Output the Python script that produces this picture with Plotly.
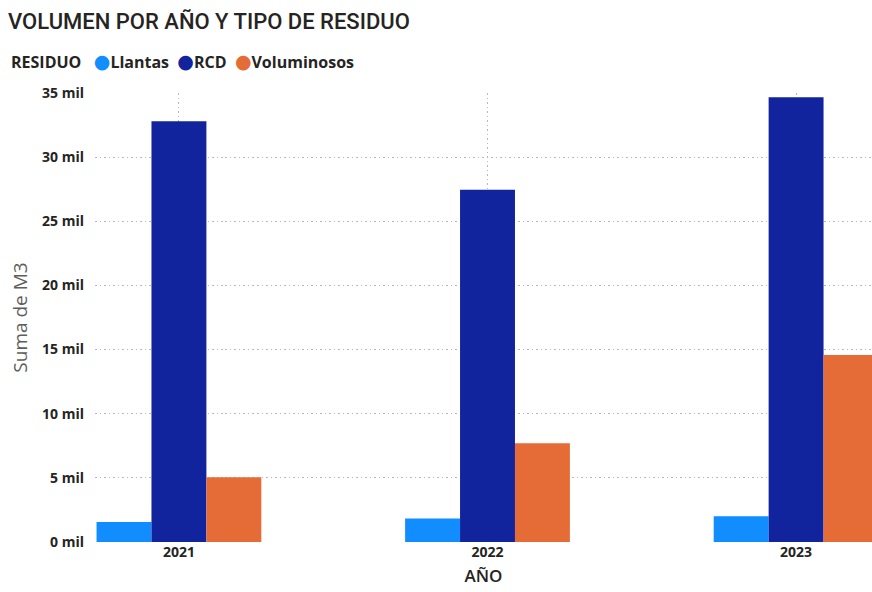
import plotly.graph_objects as go

# Volume (m3) per year and waste type
years = ["2021", "2022", "2023"]
series_names = ["Llantas", "RCD", "Voluminosos"]
llantas = [1560, 1830, 2000]
rcd = [32790, 27450, 34660]
voluminosos = [5050, 7700, 14570]
series_values = [llantas, rcd, voluminosos]
series_colors = ["#118DFF", "#12239E", "#E66C37"]

y_ticks = [0, 5000, 10000, 15000, 20000, 25000, 30000, 35000]
y_tick_text = [f"{v // 1000} mil" for v in y_ticks]

W, H = 872, 592
TEXT = "#252423"
GRID = "#B8B8B8"

fig = go.Figure()
for name, vals, col in zip(series_names, series_values, series_colors):
    fig.add_trace(go.Bar(
        x=years, y=vals, name=name,
        marker=dict(color=col, line=dict(width=0)),
        showlegend=False,
    ))

# Legend row drawn as a single rich-text line
legend_parts = ["<b>RESIDUO</b>&nbsp;&nbsp;&nbsp;"]
for name, col in zip(series_names, series_colors):
    legend_parts.append(
        f"<span style='color:{col};font-size:19px;font-family:DejaVu Sans'>●</span>"
        f"<b>{name}</b>&nbsp;&nbsp;"
    )
legend_text = "".join(legend_parts)

fig.update_layout(
    width=W, height=H,
    margin=dict(l=95, r=0, t=93, b=50, pad=0),
    paper_bgcolor="white", plot_bgcolor="white",
    barmode="group", bargap=0.466, bargroupgap=0,
    font=dict(family="Open Sans", color=TEXT),
    title=dict(
        text="VOLUMEN POR AÑO Y TIPO DE RESIDUO",
        x=8 / W, xanchor="left", xref="container",
        y=1 - 21 / H, yanchor="middle", yref="container",
        font=dict(family="Roboto", size=22, weight=500, color=TEXT),
    ),
    xaxis=dict(
        type="category",
        range=[-0.272, 2.246],
        showgrid=True, gridcolor=GRID, griddash="1.5px,3px", gridwidth=1,
        showline=False, zeroline=False, ticks="",
        tickfont=dict(family="Open Sans", size=14, weight="bold", color=TEXT),
        title=dict(text="AÑO", standoff=10,
                   font=dict(family="Open Sans", size=17, weight=600, color=TEXT)),
    ),
    yaxis=dict(
        range=[0, 35000],
        tickvals=y_ticks, ticktext=y_tick_text,
        showgrid=True, gridcolor=GRID, griddash="1.5px,3px", gridwidth=1,
        zeroline=False, showline=False, ticks="",
        ticklabelstandoff=10,
        tickfont=dict(family="Open Sans", size=14, weight="bold", color=TEXT),
        title=dict(text="Suma de M3", standoff=9,
                   font=dict(family="Open Sans", size=19, color="#605E5C")),
    ),
    annotations=[dict(
        text=legend_text, xref="paper", yref="paper",
        x=-86 / (W - 95), y=1 + 31 / (H - 93 - 50),
        xanchor="left", yanchor="middle", showarrow=False,
        font=dict(family="Open Sans", size=16, color=TEXT),
    )],
)

fig.write_html("out.html")
